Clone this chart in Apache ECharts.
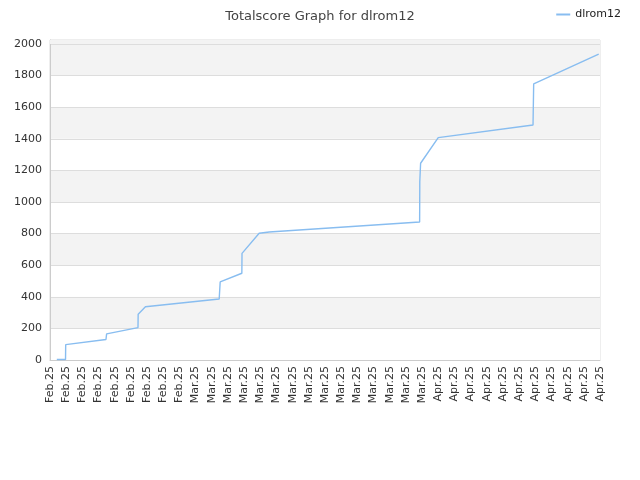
<!DOCTYPE html>
<html><head><meta charset="utf-8">
<script src="https://cdn.jsdelivr.net/npm/echarts@6/dist/echarts.min.js"></script>
<style>html,body{margin:0;padding:0;background:#fff}#c{width:640px;height:480px}</style>
</head><body><div id="c"></div>
<script>
var xLabels = ["Feb.25","Feb.25","Feb.25","Feb.25","Feb.25","Feb.25","Feb.25","Feb.25","Feb.25",
"Mar.25","Mar.25","Mar.25","Mar.25","Mar.25","Mar.25","Mar.25","Mar.25","Mar.25","Mar.25","Mar.25","Mar.25","Mar.25","Mar.25","Mar.25",
"Apr.25","Apr.25","Apr.25","Apr.25","Apr.25","Apr.25","Apr.25","Apr.25","Apr.25","Apr.25","Apr.25"];
var seriesName = "dlrom12";
var xPos = [0.42, 0.96, 0.97, 3.46, 3.5, 5.44, 5.45, 5.9, 10.46, 10.52, 11.86, 11.87, 12.93, 13.55, 22.85, 22.86, 22.91, 24.0, 29.86, 29.9, 33.92];
var scores = [3, 3, 97, 130, 165, 205, 289, 337, 386, 494, 549, 675, 802, 810, 873, 1129, 1245, 1407, 1487, 1747, 1935];
var data = xPos.map(function(x,i){return [x, scores[i]];});
var chart = echarts.init(document.getElementById('c'));
chart.setOption({
  animation:false,
  title:{text:'Totalscore Graph for dlrom12', left:'center', top:5,
    textStyle:{fontSize:13, fontWeight:'normal', color:'#444', fontFamily:'DejaVu Sans'}},
  legend:{right:14, top:4, itemWidth:14, itemHeight:2, icon:'rect',
    textStyle:{fontSize:11, color:'#222', fontFamily:'DejaVu Sans'},
    data:[seriesName]},
  grid:{left:50, right:40, top:40, bottom:120, show:true, borderColor:'#ddd', borderWidth:1},
  xAxis:{type:'value', min:0, max:34, interval:1,
    axisLine:{show:true, lineStyle:{color:'#ccc'}}, axisTick:{show:false},
    splitLine:{show:false},
    axisLabel:{rotate:90, fontSize:11, color:'#333', fontFamily:'DejaVu Sans', margin:6,
      formatter:function(v){return xLabels[Math.round(v)]||'';}}},
  yAxis:{type:'value', min:0, max:2025, interval:200,
    axisLine:{show:true, lineStyle:{color:'#ccc'}}, axisTick:{show:false},
    splitLine:{lineStyle:{color:'#ddd'}},
    splitArea:{show:true, areaStyle:{color:['#ffffff','#f3f3f3']}},
    axisLabel:{fontSize:11, color:'#333', fontFamily:'DejaVu Sans', margin:8,
      formatter:function(v){return v%200===0?String(v):'';}}},
  series:[{name:seriesName, type:'line', data:data, showSymbol:false, symbol:'none',
    lineStyle:{color:'#88bdf0', width:1.4}, itemStyle:{color:'#88bdf0'},
    markArea:{silent:true, itemStyle:{color:'#f3f3f3'}, data:[[{yAxis:2000},{yAxis:2025}]]}}]
});
</script></body></html>
